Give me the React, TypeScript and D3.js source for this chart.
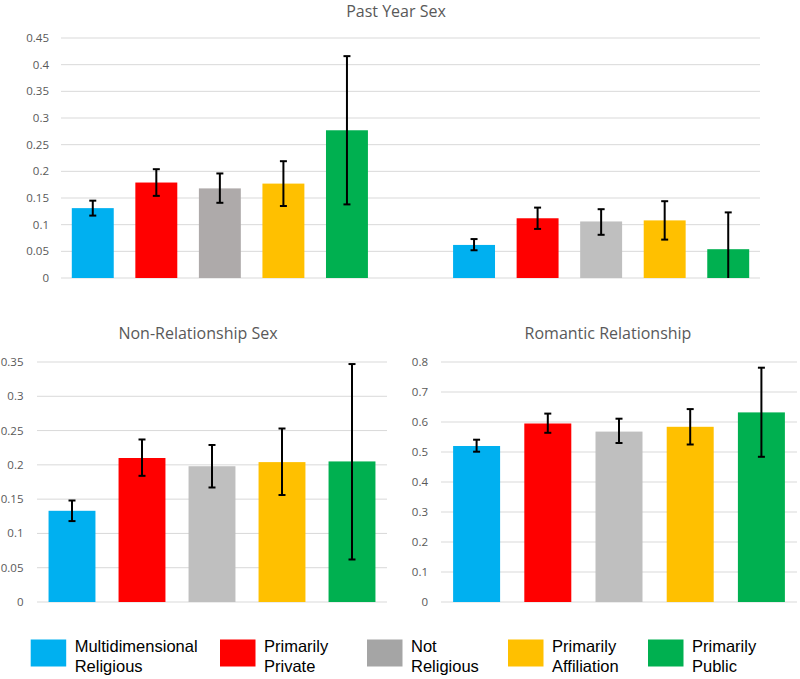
import React from "react";
import * as d3 from "d3";

const categories = ["Multidimensional Religious", "Primarily Private", "Not Religious", "Primarily Affiliation", "Primarily Public"];
const legendLine1 = ["Multidimensional", "Primarily", "Not", "Primarily", "Primarily"];
const legendLine2 = ["Religious", "Private", "Religious", "Affiliation", "Public"];

const pastYearA = [0.131, 0.179, 0.168, 0.177, 0.277];
const pastYearALow = [0.117, 0.154, 0.141, 0.135, 0.138];
const pastYearAHigh = [0.145, 0.204, 0.196, 0.219, 0.416];

const pastYearB = [0.062, 0.112, 0.106, 0.108, 0.054];
const pastYearBLow = [0.052, 0.092, 0.081, 0.072, 0.0];
const pastYearBHigh = [0.073, 0.132, 0.129, 0.144, 0.123];

const nonRel = [0.133, 0.21, 0.198, 0.204, 0.205];
const nonRelLow = [0.118, 0.184, 0.167, 0.156, 0.062];
const nonRelHigh = [0.148, 0.237, 0.229, 0.253, 0.347];

const romantic = [0.52, 0.595, 0.568, 0.584, 0.632];
const romanticLow = [0.501, 0.564, 0.53, 0.525, 0.484];
const romanticHigh = [0.541, 0.628, 0.611, 0.643, 0.781];

const pastYearTicks = [0, 0.05, 0.1, 0.15, 0.2, 0.25, 0.3, 0.35, 0.4, 0.45];
const nonRelTicks = [0, 0.05, 0.1, 0.15, 0.2, 0.25, 0.3, 0.35];
const romanticTicks = [0, 0.1, 0.2, 0.3, 0.4, 0.5, 0.6, 0.7, 0.8];

const colors = ["#00B0F0", "#FF0000", "#BFBFBF", "#FFC000", "#00B050"];
const colorsTopLeft = ["#00B0F0", "#FF0000", "#AEAAAA", "#FFC000", "#00B050"];
const legendColors = ["#00B0F0", "#FF0000", "#A5A5A5", "#FFC000", "#00B050"];

const TEXT = "#595959";
const GRID = "#D9D9D9";
const TICKFONT = "'Open Sans', sans-serif";

type Bar = { key: string; value: number; low: number; high: number; color: string };

function Panel(props: {
  title: string;
  titleX: number;
  titleY: number;
  x0: number;
  x1: number;
  y0: number;
  y1: number;
  max: number;
  ticks: number[];
  labelX: number;
  slots: string[];
  bars: Bar[];
  padding: number;
  tickFmt: (v: number) => string;
}) {
  const { title, titleX, titleY, x0, x1, y0, y1, max, ticks, labelX, slots, bars, padding, tickFmt } = props;
  const x = d3.scaleBand<string>().domain(slots).range([x0, x1]).paddingInner(padding).paddingOuter(padding / 2);
  const y = d3.scaleLinear().domain([0, max]).range([y0, y1]);
  const bw = x.bandwidth();
  const cap = 3.5;
  return (
    <g>
      <text x={titleX} y={titleY} textAnchor="middle" fontFamily={TICKFONT} fontSize={16} fill={TEXT}>
        {title}
      </text>
      {ticks.map((t) => (
        <g key={t}>
          <line x1={x0} x2={x1} y1={y(t)} y2={y(t)} stroke={GRID} strokeWidth={1} />
          <text x={labelX} y={y(t)} dy="0.35em" textAnchor="end" fontFamily={TICKFONT} fontSize={11.5} fill={TEXT}>
            {tickFmt(t)}
          </text>
        </g>
      ))}
      {bars.map((b) => {
        const bx = x(b.key)!;
        const cx = bx + bw / 2;
        return (
          <g key={b.key}>
            <rect x={bx} y={y(b.value)} width={bw} height={y(0) - y(b.value)} fill={b.color} />
            <line x1={cx} x2={cx} y1={y(b.low)} y2={y(b.high)} stroke="#000" strokeWidth={2} />
            <line x1={cx - cap} x2={cx + cap} y1={y(b.high)} y2={y(b.high)} stroke="#000" strokeWidth={2} />
            {b.low > 0 && (
              <line x1={cx - cap} x2={cx + cap} y1={y(b.low)} y2={y(b.low)} stroke="#000" strokeWidth={2} />
            )}
          </g>
        );
      })}
    </g>
  );
}

const fmt = (v: number) => (v === 0 ? "0" : String(+v.toFixed(2)));

export default function App() {
  const topSlots = [...categories.map((c) => "A-" + c), "gap", ...categories.map((c) => "B-" + c)];
  const topBars: Bar[] = [
    ...categories.map((c, i) => ({ key: "A-" + c, value: pastYearA[i], low: pastYearALow[i], high: pastYearAHigh[i], color: colorsTopLeft[i] })),
    ...categories.map((c, i) => ({ key: "B-" + c, value: pastYearB[i], low: pastYearBLow[i], high: pastYearBHigh[i], color: colors[i] })),
  ];
  const nonRelBars: Bar[] = categories.map((c, i) => ({ key: c, value: nonRel[i], low: nonRelLow[i], high: nonRelHigh[i], color: colors[i] }));
  const romBars: Bar[] = categories.map((c, i) => ({ key: c, value: romantic[i], low: romanticLow[i], high: romanticHigh[i], color: colors[i] }));

  const legendX = [30.7, 220, 367, 508, 648];

  return (
    <svg width={800} height={679} style={{ position: "absolute", left: 0, top: 0, background: "#fff" }}>
      <rect width={800} height={679} fill="#fff" />
      <Panel
        title="Past Year Sex"
        titleX={396}
        titleY={17}
        x0={61}
        x1={760}
        y0={278}
        y1={38}
        max={0.45}
        ticks={pastYearTicks}
        labelX={49}
        slots={topSlots}
        bars={topBars}
        padding={0.34}
        tickFmt={fmt}
      />
      <Panel
        title="Non-Relationship Sex"
        titleX={198}
        titleY={339}
        x0={37}
        x1={387}
        y0={602}
        y1={362}
        max={0.35}
        ticks={nonRelTicks}
        labelX={23.5}
        slots={categories}
        bars={nonRelBars}
        padding={0.33}
        tickFmt={fmt}
      />
      <Panel
        title="Romantic Relationship"
        titleX={608}
        titleY={339}
        x0={441}
        x1={797}
        y0={602}
        y1={362}
        max={0.8}
        ticks={romanticTicks}
        labelX={428}
        slots={categories}
        bars={romBars}
        padding={0.34}
        tickFmt={fmt}
      />
      {categories.map((c, i) => (
        <g key={c}>
          <rect x={legendX[i]} y={639.5} width={35.5} height={27} fill={legendColors[i]} />
          <text x={legendX[i] + 44} y={652} fontFamily="'Liberation Sans', Arial, sans-serif" fontSize={16.5} fill="#000">
            {legendLine1[i]}
          </text>
          <text x={legendX[i] + 44} y={672} fontFamily="'Liberation Sans', Arial, sans-serif" fontSize={16.5} fill="#000">
            {legendLine2[i]}
          </text>
        </g>
      ))}
    </svg>
  );
}
